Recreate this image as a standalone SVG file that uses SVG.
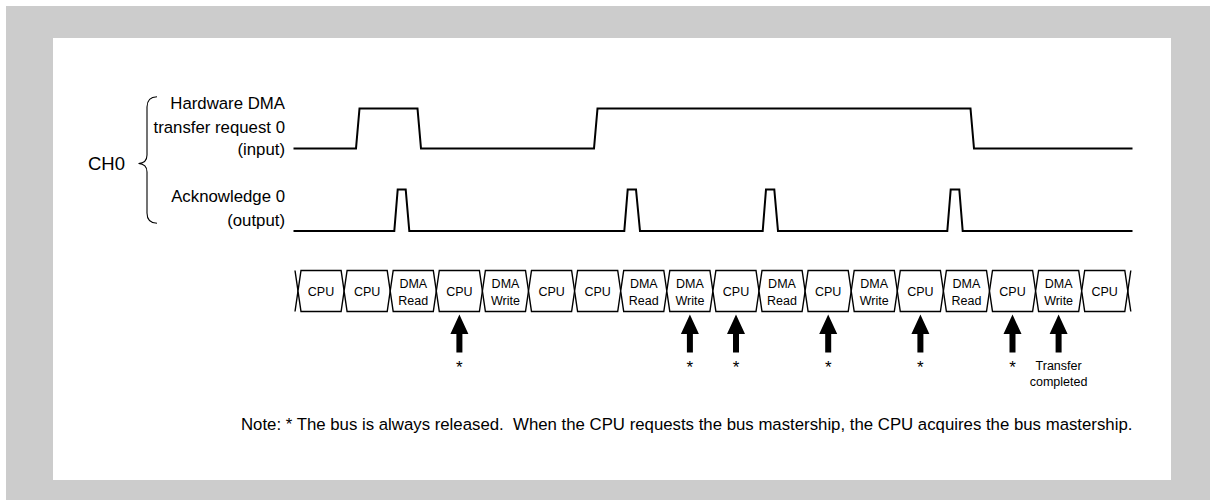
<svg xmlns="http://www.w3.org/2000/svg" width="1210" height="500" viewBox="0 0 1210 500">
  <style>
    text { font-family: "Liberation Sans", Arial, sans-serif; fill: #000; }
    .lbl { font-size: 16.8px; text-anchor: end; }
    .ch { font-size: 18.5px; }
    .cell { font-size: 12.5px; text-anchor: middle; }
    .mark { font-size: 17px; text-anchor: middle; }
    .small { font-size: 12.5px; text-anchor: middle; }
    .note { font-size: 16.8px; white-space: pre; }
    .wave { fill: none; stroke: #000; stroke-width: 2; stroke-linejoin: miter; }
    .bus { fill: #fff; stroke: #000; stroke-width: 1.4; stroke-linejoin: miter; }
    .brace { fill: none; stroke: #000; stroke-width: 1.1; }
    .arrow { fill: #000; stroke: none; }
  </style>
  <defs>
    <!-- upward bus-release arrow, tip at origin -->
    <polygon id="up-arrow" class="arrow" points="0,0 9,19.5 3,19.5 3,38 -3,38 -3,19.5 -9,19.5"/>
  </defs>

  <!-- frame -->
  <rect x="0" y="0" width="1210" height="500" fill="#fff"/>
  <rect x="6" y="6" width="1204" height="494" fill="#cccccc"/>
  <rect x="53" y="38" width="1118" height="442" fill="#fff"/>

  <!-- channel labels -->
  <g id="ch0-label">
    <text class="ch" x="88" y="170">CH0</text>
    <path class="brace" d="M157,96.7 Q147,97 147,107 L147,155 Q147,163 138.5,163.5 Q147,164 147,172 L147,213 Q147,223 157,223.3"/>
  </g>
  <g id="req-label">
    <text class="lbl" x="285" y="109.3">Hardware DMA</text>
    <text class="lbl" x="285" y="132.5">transfer request 0</text>
    <text class="lbl" x="285" y="155.3">(input)</text>
  </g>
  <g id="ack-label">
    <text class="lbl" x="285" y="202.3">Acknowledge 0</text>
    <text class="lbl" x="285" y="225.7">(output)</text>
  </g>

  <!-- waveforms -->
  <g id="connectors">
    <polyline id="req-wave" class="wave" points="293.5,148.5 356,148.5 359.5,108.5 417.5,108.5 421,148.5 594,148.5 597.5,108.5 970.5,108.5 974,148.5 1132.5,148.5"/>
    <polyline id="ack-wave" class="wave" points="293.5,231 394.3,231 397.7,189.5 405.7,189.5 409.3,231 624.3,231 627.7,189.5 636,189.5 640,231 762.7,231 766,189.5 774.3,189.5 778,231 947.3,231 950.7,189.5 959.3,189.5 962.7,231 1132.5,231"/>
  </g>

  <!-- bus cycles -->
  <g id="bus">
    <polyline class="bus" fill="none" points="295,270.5 298,291 295,311.5"/>
    <polyline class="bus" fill="none" points="1130.8,270.5 1127.8,291 1130.8,311.5"/>
    <g id="c0"><polygon class="bus" points="298,291 301,270.5 341.1,270.5 344.1,291 341.1,311.5 301,311.5"/><text class="cell" x="321" y="295.5">CPU</text></g>
    <g id="c1"><polygon class="bus" points="344.1,291 347.1,270.5 387.2,270.5 390.2,291 387.2,311.5 347.1,311.5"/><text class="cell" x="367.2" y="295.5">CPU</text></g>
    <g id="c2"><polygon class="bus" points="390.2,291 393.2,270.5 433.3,270.5 436.3,291 433.3,311.5 393.2,311.5"/><text class="cell" x="413.3" y="288">DMA</text><text class="cell" x="413.3" y="305">Read</text></g>
    <g id="c3"><polygon class="bus" points="436.3,291 439.3,270.5 479.4,270.5 482.4,291 479.4,311.5 439.3,311.5"/><text class="cell" x="459.4" y="295.5">CPU</text></g>
    <g id="c4"><polygon class="bus" points="482.4,291 485.4,270.5 525.5,270.5 528.5,291 525.5,311.5 485.4,311.5"/><text class="cell" x="505.5" y="288">DMA</text><text class="cell" x="505.5" y="305">Write</text></g>
    <g id="c5"><polygon class="bus" points="528.5,291 531.5,270.5 571.6,270.5 574.6,291 571.6,311.5 531.5,311.5"/><text class="cell" x="551.6" y="295.5">CPU</text></g>
    <g id="c6"><polygon class="bus" points="574.6,291 577.6,270.5 617.7,270.5 620.7,291 617.7,311.5 577.6,311.5"/><text class="cell" x="597.7" y="295.5">CPU</text></g>
    <g id="c7"><polygon class="bus" points="620.7,291 623.7,270.5 663.8,270.5 666.8,291 663.8,311.5 623.7,311.5"/><text class="cell" x="643.8" y="288">DMA</text><text class="cell" x="643.8" y="305">Read</text></g>
    <g id="c8"><polygon class="bus" points="666.8,291 669.8,270.5 709.9,270.5 712.9,291 709.9,311.5 669.8,311.5"/><text class="cell" x="689.9" y="288">DMA</text><text class="cell" x="689.9" y="305">Write</text></g>
    <g id="c9"><polygon class="bus" points="712.9,291 715.9,270.5 756,270.5 759,291 756,311.5 715.9,311.5"/><text class="cell" x="736" y="295.5">CPU</text></g>
    <g id="c10"><polygon class="bus" points="759,291 762,270.5 802.1,270.5 805.1,291 802.1,311.5 762,311.5"/><text class="cell" x="782" y="288">DMA</text><text class="cell" x="782" y="305">Read</text></g>
    <g id="c11"><polygon class="bus" points="805.1,291 808.1,270.5 848.2,270.5 851.2,291 848.2,311.5 808.1,311.5"/><text class="cell" x="828.2" y="295.5">CPU</text></g>
    <g id="c12"><polygon class="bus" points="851.2,291 854.2,270.5 894.3,270.5 897.3,291 894.3,311.5 854.2,311.5"/><text class="cell" x="874.2" y="288">DMA</text><text class="cell" x="874.2" y="305">Write</text></g>
    <g id="c13"><polygon class="bus" points="897.3,291 900.3,270.5 940.4,270.5 943.4,291 940.4,311.5 900.3,311.5"/><text class="cell" x="920.4" y="295.5">CPU</text></g>
    <g id="c14"><polygon class="bus" points="943.4,291 946.4,270.5 986.5,270.5 989.5,291 986.5,311.5 946.4,311.5"/><text class="cell" x="966.4" y="288">DMA</text><text class="cell" x="966.4" y="305">Read</text></g>
    <g id="c15"><polygon class="bus" points="989.5,291 992.5,270.5 1032.6,270.5 1035.6,291 1032.6,311.5 992.5,311.5"/><text class="cell" x="1012.5" y="295.5">CPU</text></g>
    <g id="c16"><polygon class="bus" points="1035.6,291 1038.6,270.5 1078.7,270.5 1081.7,291 1078.7,311.5 1038.6,311.5"/><text class="cell" x="1058.6" y="288">DMA</text><text class="cell" x="1058.6" y="305">Write</text></g>
    <g id="c17"><polygon class="bus" points="1081.7,291 1084.7,270.5 1124.8,270.5 1127.8,291 1124.8,311.5 1084.7,311.5"/><text class="cell" x="1104.7" y="295.5">CPU</text></g>
  </g>

  <!-- bus release points -->
  <g id="releases">
    <g id="r1"><use href="#up-arrow" x="459.4" y="314.5"/><text class="mark" x="459.4" y="373">*</text></g>
    <g id="r2"><use href="#up-arrow" x="689.9" y="314.5"/><text class="mark" x="689.9" y="373">*</text></g>
    <g id="r3"><use href="#up-arrow" x="736" y="314.5"/><text class="mark" x="736" y="373">*</text></g>
    <g id="r4"><use href="#up-arrow" x="828.2" y="314.5"/><text class="mark" x="828.2" y="373">*</text></g>
    <g id="r5"><use href="#up-arrow" x="920.4" y="314.5"/><text class="mark" x="920.4" y="373">*</text></g>
    <g id="r6"><use href="#up-arrow" x="1012.5" y="314.5"/><text class="mark" x="1012.5" y="373">*</text></g>
    <g id="r7"><use href="#up-arrow" x="1058.6" y="314.5"/><text class="small" x="1058.6" y="370">Transfer</text><text class="small" x="1058.6" y="386">completed</text></g>
  </g>

  <text class="note" x="241" y="430">Note: * The bus is always released.  When the CPU requests the bus mastership, the CPU acquires the bus mastership.</text>
</svg>
